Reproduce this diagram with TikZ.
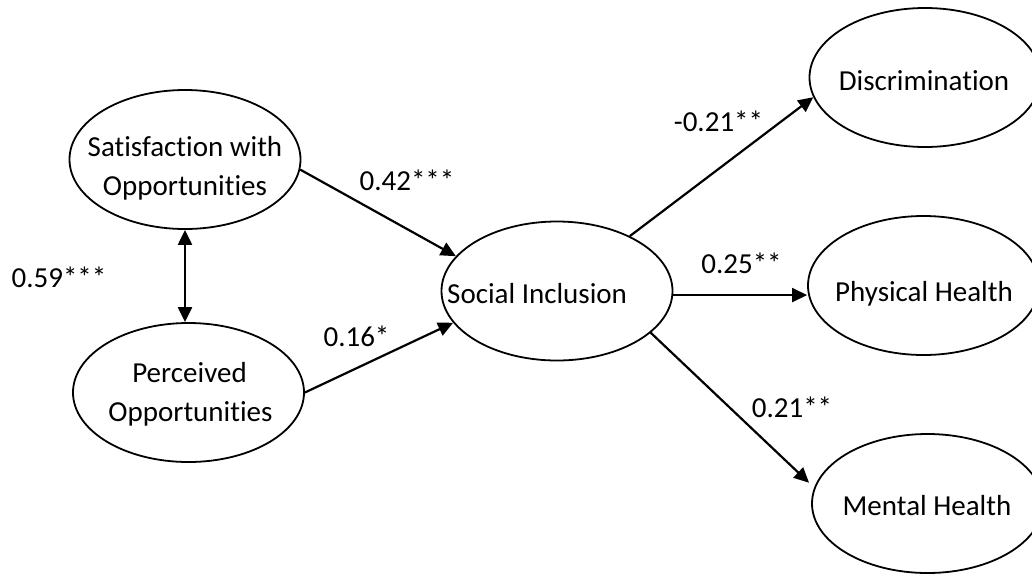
\documentclass[tikz,border=0pt]{standalone}
\usepackage{fontspec}
\setmainfont{Carlito}[Ligatures={NoCommon,NoRare,NoContextual}]
\usetikzlibrary{shapes.geometric,arrows.meta,calc}
\begin{document}
\begin{tikzpicture}[x=1pt,y=-1pt,
  ell/.style={ellipse,draw,line width=1.8pt,minimum width=231pt,minimum height=139pt,inner sep=0pt},
  txt/.style={anchor=base,inner sep=0pt,font=\fontsize{29pt}{35pt}\selectfont},
  conn/.style={line width=2.2pt,-{Triangle[length=15pt,width=14pt]}},
  bconn/.style={line width=2.2pt,{Triangle[length=15pt,width=14pt]}-{Triangle[length=15pt,width=14pt]}},
]
\useasboundingbox (0,0) rectangle (1032,574);
\fill[white] (0,0) rectangle (1032,574);

% ellipses
\node[ell] (sat)  at (185,159.5) {};
\node[ell] (per)  at (188.5,392.5) {};
\node[ell] (soc)  at (557,291) {};
\node[ell] (disc) at (925,77.5) {};
\node[ell] (phys) at (923.5,285.5) {};
\node[ell] (ment) at (927.5,503.5) {};

% texts inside ellipses
\node[txt] (satA) at (185,156.5) {Satisfaction with};
\node[txt] (satB) at (185,195.5) {Opportunities};
\node[txt] (perA) at (189.5,382.5) {Perceived};
\node[txt] (perB) at (190.5,421.5) {Opportunities};
\node[txt,anchor=base west] (socT) at (447,303) {Social Inclusion};
\node[txt] (discT) at (924,90.7) {Discrimination};
\node[txt] (physT) at (924,301) {Physical Health};
\node[txt] (mentT) at (927,515) {Mental Health};

% connectors
\draw[bconn] (sat.south) -- (sat.south |- per.north);
\draw[conn] (sat.-5) -- (soc.161);
\draw[conn] (per.east) -- (soc.197);
\draw[conn] (soc.37) -- (disc.190);
\draw[conn] (soc.-2.5) -- (soc.-2.5 -| phys.west);
\draw[conn,shorten >=7pt] (soc.-24.6) -- (ment.172);

% path labels
\node[txt] (l59) at (59,287) {0.59***};
\node[txt] (l42) at (407,190) {0.42***};
\node[txt] (l16) at (356.5,346) {0.16*};
\node[txt] (l21n) at (718.5,131.7) {-0.21**};
\node[txt] (l25) at (741.5,273) {0.25**};
\node[txt] (l21) at (792,417) {0.21**};
\end{tikzpicture}
\end{document}
